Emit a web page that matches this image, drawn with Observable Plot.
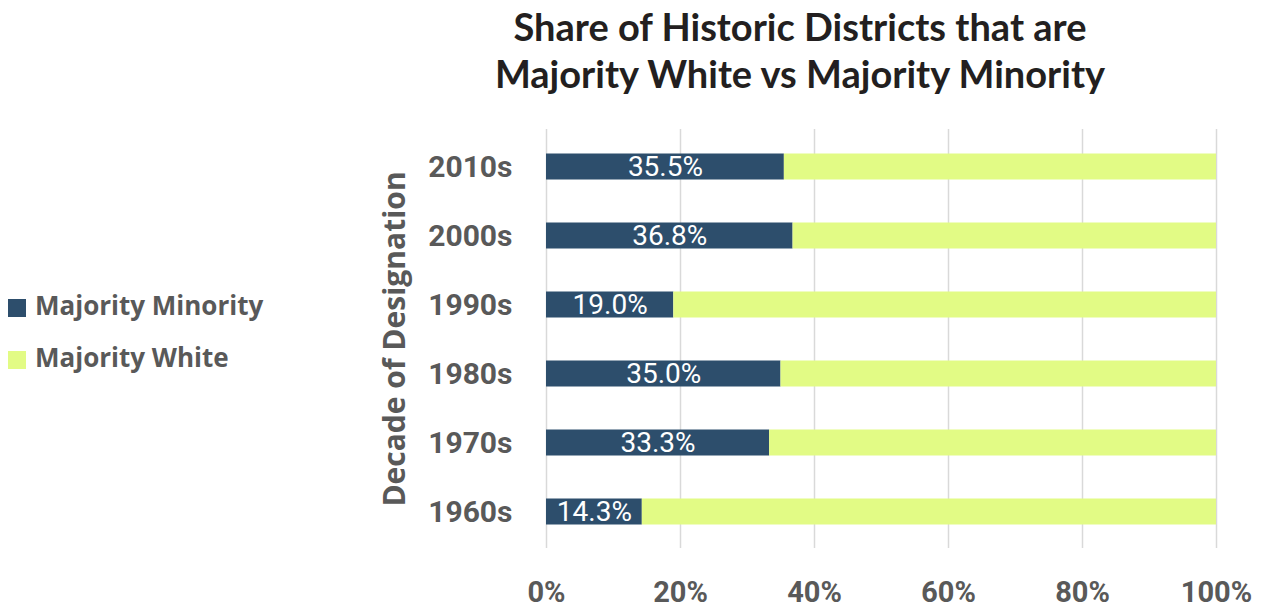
<!DOCTYPE html>
<html>
<head>
<meta charset="utf-8">
<script src="https://cdn.jsdelivr.net/npm/d3@7"></script>
<script src="https://cdn.jsdelivr.net/npm/@observablehq/plot@0.6"></script>
<style>
  html, body { margin: 0; padding: 0; background: #fff; }
  #wrap { position: relative; width: 1268px; height: 611px; overflow: hidden; }
  #title { position: absolute; left: 300px; width: 1000px; top: 3px; text-align: center;
    font-family: Lato, "Open Sans", sans-serif; font-weight: 700; font-size: 38px; line-height: 47px; color: #231f20; }
  #legend { position: absolute; left: 8px; top: 279px; font-family: "Open Sans", sans-serif; font-weight: 700;
    font-size: 26px; color: #595959; }
  .item { display: flex; align-items: center; height: 52px; }
  .sw { width: 18px; height: 18px; margin-right: 9px; margin-top: 6px; }
  #chart { position: absolute; left: 0; top: 0; }
</style>
</head>
<body>
<div id="wrap">
  <div id="chart"></div>
  <div id="title">Share of Historic Districts that are<br>Majority White vs Majority Minority</div>
  <div id="legend"></div>
</div>
<script>
const decades = ["2010s", "2000s", "1990s", "1980s", "1970s", "1960s"];
const minorityShare = [35.5, 36.8, 19.0, 35.0, 33.3, 14.3];
const whiteShare = [64.5, 63.2, 81.0, 65.0, 66.7, 85.7];
const seriesNames = ["Majority Minority", "Majority White"];
const seriesColors = ["#2d4e6c", "#e2fb85"];
const xTicks = [0, 20, 40, 60, 80, 100];
const axisTitle = "Decade of Designation";

const rows = [];
decades.forEach((d, i) => {
  rows.push({decade: d, series: seriesNames[0], value: minorityShare[i]});
  rows.push({decade: d, series: seriesNames[1], value: whiteShare[i]});
});
const labels = decades.map((d, i) => ({decade: d, value: minorityShare[i]}));

const chart = Plot.plot({
  width: 1268,
  height: 611,
  marginLeft: 546,
  marginRight: 52,
  marginTop: 129,
  marginBottom: 63,
  style: {fontFamily: "Roboto, sans-serif", background: "transparent"},
  x: {domain: [0, 100], ticks: xTicks, tickFormat: d => d + "%", label: null, axis: null},
  y: {domain: decades, padding: 0, label: null, axis: null},
  color: {domain: seriesNames, range: seriesColors},
  marks: [
    Plot.ruleX(xTicks, {stroke: "#d9d9d9", strokeWidth: 1.5}),
    Plot.barX(rows, Plot.stackX({x: "value", y: "decade", fill: "series", order: seriesNames, insetTop: 21.5, insetBottom: 21.5})),
    Plot.text(labels, {x: d => d.value / 2, y: "decade", text: d => d.value.toFixed(1) + "%", fill: "white", fontSize: 28, fontFamily: "Roboto, sans-serif", dy: 0}),
    Plot.axisX({ticks: xTicks, tickFormat: d => d + "%", tickSize: 0, tickPadding: 33, fontSize: 29, fontWeight: 700, fill: "#595959", label: null}),
    Plot.axisY({tickSize: 0, tickPadding: 34, fontSize: 30, fontWeight: 700, fill: "#595959", label: null}),
    Plot.text([axisTitle], {frameAnchor: "left", text: d => d, rotate: -90, textAnchor: "middle", dx: -151, fontSize: 30, fontWeight: 700, fill: "#595959", fontFamily: "Open Sans, sans-serif"})
  ]
});
document.getElementById("chart").appendChild(chart);

const legend = document.getElementById("legend");
seriesNames.forEach((n, i) => {
  const it = document.createElement("div");
  it.className = "item";
  const sw = document.createElement("div");
  sw.className = "sw";
  sw.style.background = seriesColors[i];
  const t = document.createElement("span");
  t.textContent = n;
  it.appendChild(sw); it.appendChild(t);
  legend.appendChild(it);
});
</script>
</body>
</html>
